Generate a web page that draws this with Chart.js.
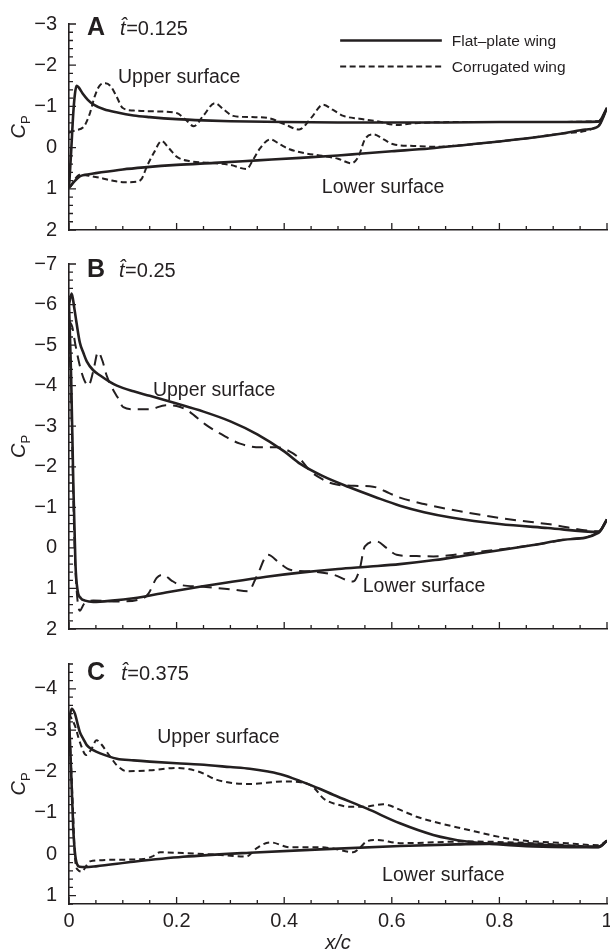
<!DOCTYPE html>
<html>
<head>
<meta charset="utf-8">
<title>Pressure coefficient, flat-plate vs corrugated wing</title>
<script src="https://cdn.jsdelivr.net/npm/chart.js@4.4.1/dist/chart.umd.min.js"></script>
<style>
  html, body { margin: 0; padding: 0; background: #fff; overflow: hidden; }
  body { width: 610px; height: 951px; position: relative; }
  canvas { position: absolute; left: 0; }
</style>
</head>
<body>
<canvas id="panelA" width="640" height="260" style="top:0"></canvas>
<canvas id="panelB" width="640" height="420" style="top:240px"></canvas>
<canvas id="panelC" width="640" height="330" style="top:640px"></canvas>
<script>
// chordwise position x/c and pressure coefficient Cp, [x, Cp]
// A: t = 0.125
const aFlatUpper = [[0,0.98],[0.004,0.1],[0.008,-0.85],[0.011,-1.3],[0.014,-1.5],[0.018,-1.46],[0.025,-1.32],[0.035,-1.16],[0.045,-1.05],[0.065,-0.93],[0.09,-0.85],[0.12,-0.78],[0.15,-0.74],[0.2,-0.69],[0.25,-0.66],[0.3,-0.64],[0.4,-0.62],[0.5,-0.61],[0.6,-0.61],[0.7,-0.61],[0.8,-0.62],[0.9,-0.62],[0.984,-0.63],[1,-0.96]];
const aFlatLower = [[0,0.98],[0.01,0.82],[0.02,0.7],[0.03,0.66],[0.045,0.63],[0.06,0.6],[0.1,0.53],[0.14,0.48],[0.2,0.42],[0.27,0.37],[0.35,0.31],[0.43,0.25],[0.5,0.19],[0.54,0.15],[0.6,0.09],[0.67,0.02],[0.74,-0.07],[0.8,-0.15],[0.86,-0.24],[0.92,-0.35],[0.96,-0.44],[0.984,-0.52],[1,-0.96]];
const aCorrUpper = [[0,-0.36],[0.012,-0.42],[0.027,-0.5],[0.038,-0.8],[0.048,-1.25],[0.058,-1.52],[0.068,-1.56],[0.078,-1.48],[0.088,-1.25],[0.1,-0.96],[0.12,-0.9],[0.16,-0.88],[0.2,-0.84],[0.215,-0.7],[0.232,-0.52],[0.25,-0.78],[0.271,-1.08],[0.288,-0.92],[0.305,-0.77],[0.34,-0.74],[0.37,-0.72],[0.4,-0.57],[0.428,-0.44],[0.45,-0.72],[0.472,-1.04],[0.49,-0.92],[0.51,-0.77],[0.54,-0.7],[0.572,-0.64],[0.609,-0.55],[0.65,-0.6],[0.74,-0.62],[0.86,-0.62],[0.984,-0.64],[1,-0.96]];
const aCorrLower = [[0.003,0.95],[0.012,0.75],[0.02,0.66],[0.04,0.69],[0.06,0.74],[0.08,0.8],[0.1,0.84],[0.125,0.83],[0.135,0.76],[0.145,0.45],[0.158,0.12],[0.172,-0.16],[0.186,0.02],[0.2,0.22],[0.225,0.33],[0.26,0.37],[0.3,0.42],[0.33,0.52],[0.342,0.3],[0.355,0.02],[0.374,-0.2],[0.392,-0.08],[0.41,0.04],[0.44,0.14],[0.47,0.2],[0.5,0.27],[0.525,0.38],[0.538,0.22],[0.55,-0.2],[0.566,-0.32],[0.585,-0.2],[0.603,-0.08],[0.64,-0.04],[0.68,-0.02],[0.74,-0.07],[0.8,-0.15],[0.86,-0.24],[0.92,-0.35],[0.984,-0.53],[1,-0.96]];

// B: t = 0.25
const bFlatUpper = [[0,-6.0],[0.005,-6.27],[0.01,-5.9],[0.014,-5.55],[0.02,-5.07],[0.027,-4.8],[0.033,-4.6],[0.045,-4.38],[0.058,-4.25],[0.075,-4.1],[0.089,-4.0],[0.12,-3.86],[0.15,-3.75],[0.2,-3.56],[0.25,-3.36],[0.3,-3.12],[0.35,-2.8],[0.4,-2.38],[0.43,-2.07],[0.47,-1.78],[0.52,-1.5],[0.57,-1.25],[0.615,-1.04],[0.66,-0.88],[0.71,-0.75],[0.8,-0.59],[0.89,-0.49],[0.984,-0.39],[1,-0.7]];
const bFlatLower = [[0,-6.0],[0.004,-4.2],[0.008,-1.6],[0.012,0.4],[0.016,1.05],[0.022,1.24],[0.03,1.3],[0.045,1.33],[0.08,1.3],[0.12,1.24],[0.18,1.1],[0.243,0.96],[0.3,0.84],[0.367,0.71],[0.43,0.61],[0.5,0.52],[0.56,0.46],[0.615,0.4],[0.68,0.3],[0.74,0.18],[0.8,0.06],[0.863,-0.07],[0.92,-0.2],[0.984,-0.37],[1,-0.7]];
const bCorrUpper = [[0,-5.6],[0.006,-5.45],[0.012,-5.0],[0.02,-4.5],[0.028,-4.15],[0.036,-4.0],[0.045,-4.35],[0.054,-4.83],[0.062,-4.62],[0.07,-4.25],[0.08,-3.95],[0.09,-3.72],[0.101,-3.47],[0.12,-3.42],[0.15,-3.42],[0.18,-3.52],[0.2,-3.5],[0.219,-3.4],[0.256,-3.02],[0.29,-2.75],[0.318,-2.57],[0.355,-2.48],[0.386,-2.48],[0.41,-2.38],[0.429,-2.2],[0.448,-1.9],[0.47,-1.7],[0.491,-1.58],[0.53,-1.53],[0.559,-1.52],[0.574,-1.48],[0.595,-1.35],[0.615,-1.24],[0.66,-1.08],[0.708,-0.95],[0.8,-0.74],[0.894,-0.58],[0.984,-0.41],[1,-0.7]];
const bCorrLower = [[0,-5.6],[0.005,-3.2],[0.01,-0.2],[0.014,1.0],[0.02,1.55],[0.028,1.38],[0.045,1.3],[0.09,1.32],[0.138,1.24],[0.148,1.12],[0.163,0.74],[0.175,0.66],[0.19,0.8],[0.206,0.91],[0.243,0.95],[0.305,1.03],[0.333,1.07],[0.349,0.7],[0.37,0.17],[0.39,0.36],[0.411,0.54],[0.45,0.58],[0.491,0.66],[0.528,0.83],[0.54,0.54],[0.55,-0.04],[0.572,-0.16],[0.59,0.0],[0.609,0.17],[0.64,0.2],[0.677,0.21],[0.739,0.13],[0.8,0.04],[0.863,-0.07],[0.92,-0.2],[0.984,-0.39],[1,-0.7]];

// C: t = 0.375
const cFlatUpper = [[0,-3.25],[0.005,-3.52],[0.011,-3.4],[0.016,-3.15],[0.02,-2.96],[0.027,-2.78],[0.033,-2.64],[0.045,-2.52],[0.058,-2.44],[0.089,-2.31],[0.12,-2.27],[0.15,-2.24],[0.2,-2.2],[0.243,-2.17],[0.3,-2.11],[0.336,-2.07],[0.37,-2.0],[0.398,-1.92],[0.43,-1.77],[0.467,-1.58],[0.491,-1.44],[0.553,-1.11],[0.615,-0.75],[0.677,-0.47],[0.739,-0.31],[0.801,-0.24],[0.863,-0.19],[0.93,-0.17],[0.984,-0.17],[1,-0.33]];
const cFlatLower = [[0,-3.3],[0.004,-2.0],[0.008,-0.6],[0.011,-0.05],[0.015,0.24],[0.02,0.3],[0.03,0.31],[0.05,0.29],[0.12,0.18],[0.212,0.06],[0.336,-0.04],[0.467,-0.12],[0.615,-0.2],[0.72,-0.24],[0.801,-0.26],[0.9,-0.22],[0.984,-0.18],[1,-0.33]];
const cCorrUpper = [[0,-3.4],[0.011,-3.11],[0.02,-2.72],[0.032,-2.4],[0.042,-2.55],[0.051,-2.76],[0.06,-2.66],[0.07,-2.48],[0.08,-2.3],[0.089,-2.15],[0.107,-2.01],[0.15,-2.03],[0.2,-2.09],[0.243,-1.99],[0.275,-1.8],[0.336,-1.7],[0.398,-1.76],[0.44,-1.72],[0.456,-1.6],[0.473,-1.35],[0.5,-1.2],[0.522,-1.15],[0.547,-1.15],[0.584,-1.21],[0.62,-1.05],[0.646,-0.91],[0.739,-0.6],[0.832,-0.35],[0.925,-0.27],[0.984,-0.22],[1,-0.33]];
const cCorrLower = [[0,-3.3],[0.006,-1.5],[0.012,0.2],[0.017,0.38],[0.024,0.42],[0.032,0.28],[0.039,0.17],[0.089,0.13],[0.138,0.11],[0.155,0.05],[0.169,-0.05],[0.212,-0.03],[0.275,0.01],[0.33,0.05],[0.349,-0.15],[0.374,-0.29],[0.411,-0.17],[0.467,-0.17],[0.491,-0.14],[0.528,-0.05],[0.54,-0.15],[0.553,-0.31],[0.572,-0.35],[0.615,-0.27],[0.739,-0.31],[0.863,-0.27],[0.984,-0.19],[1,-0.33]];

// axis ranges (Cp axis is reversed: negative up)
const cpRangeA = [-3, 2];
const cpRangeB = [-7, 2];
const cpRangeC = [-4.6, 1.2];
const seriesNames = ['Flat\u2013plate wing', 'Corrugated wing'];

const ink = '#231f20';
const FONT = '"Liberation Sans", Arial, Helvetica, sans-serif';

function pts(arr) {
  return arr.map(p => ({ x: p[0], y: p[1] }));
}

function curve(label, arr, dash) {
  return {
    label: label,
    data: pts(arr),
    showLine: true,
    borderColor: ink,
    borderWidth: dash ? 2 : 2.6,
    borderDash: dash || [],
    borderCapStyle: 'butt',
    borderJoinStyle: 'round',
    pointRadius: 0,
    fill: false,
    cubicInterpolationMode: 'monotone'
  };
}

function cpLabel(v) {
  const r = Math.round(v);
  return r < 0 ? '\u2212' + Math.abs(r) : String(r);
}

// inward ticks, Cp axis title, panel tag, surface notes and legend
const panelDecor = {
  id: 'panelDecor',
  afterDraw(chart, args, opts) {
    const { ctx, chartArea: ca, scales: { x, y } } = chart;
    ctx.save();
    ctx.strokeStyle = ink;
    ctx.fillStyle = ink;
    ctx.lineWidth = 1.3;

    ctx.beginPath();
    for (let i = 0; i <= 20; i++) {
      const px = x.getPixelForValue(i * 0.05);
      const len = i % 4 === 0 ? 7 : 4;
      ctx.moveTo(px, ca.bottom);
      ctx.lineTo(px, ca.bottom - len);
    }
    const n = Math.round((y.max - y.min) / 0.2);
    for (let i = 0; i <= n; i++) {
      const v = y.min + i * 0.2;
      const py = y.getPixelForValue(v);
      const major = Math.abs(v - Math.round(v)) < 1e-6;
      ctx.moveTo(ca.left, py);
      ctx.lineTo(ca.left + (major ? 7 : 4), py);
    }
    ctx.stroke();

    // C_P, rotated
    ctx.save();
    ctx.translate(25, (ca.top + ca.bottom) / 2);
    ctx.rotate(-Math.PI / 2);
    ctx.textBaseline = 'alphabetic';
    ctx.font = 'italic 20px ' + FONT;
    const wC = ctx.measureText('C').width;
    ctx.font = '13px ' + FONT;
    const wP = ctx.measureText('P').width;
    const x0 = -(wC + wP) / 2;
    ctx.font = 'italic 20px ' + FONT;
    ctx.fillText('C', x0, 0);
    ctx.font = '13px ' + FONT;
    ctx.fillText('P', x0 + wC, 5);
    ctx.restore();

    ctx.textAlign = 'left';
    ctx.textBaseline = 'alphabetic';

    // panel letter and time
    const ty = y.getPixelForValue(opts.tagCp);
    ctx.font = 'bold 25px ' + FONT;
    ctx.fillText(opts.letter, x.getPixelForValue(0.0335), ty);
    const tx = x.getPixelForValue(opts.timeX);
    ctx.font = 'italic 20px ' + FONT;
    ctx.fillText('t\u0302', tx, ty);
    const tw = ctx.measureText('t').width;
    ctx.font = '20px ' + FONT;
    ctx.fillText('=' + opts.time, tx + tw + 0.5, ty);

    // surface notes
    ctx.font = '19.5px ' + FONT;
    opts.notes.forEach(nt => {
      ctx.fillText(nt.text, x.getPixelForValue(nt.x), y.getPixelForValue(nt.cp));
    });

    if (opts.legend) {
      const xa = x.getPixelForValue(0.504);
      const xb = x.getPixelForValue(0.693);
      const rows = [chart.data.datasets[0], chart.data.datasets[2]];
      const rowCp = [-2.62, -1.97];
      ctx.font = '15.5px ' + FONT;
      rows.forEach((ds, i) => {
        const ly = Math.round(y.getPixelForValue(rowCp[i])) + 0.5;
        ctx.save();
        ctx.lineWidth = ds.borderWidth;
        ctx.setLineDash(ds.borderDash);
        ctx.beginPath();
        ctx.moveTo(xa, ly);
        ctx.lineTo(xb, ly);
        ctx.stroke();
        ctx.restore();
        ctx.fillText(ds.label, xb + 10, ly + 5.5);
      });
    }
    ctx.restore();
  }
};

function makePanel(id, cfg) {
  const dash = cfg.dash;
  new Chart(document.getElementById(id), {
    type: 'scatter',
    data: {
      datasets: [
        curve(seriesNames[0], cfg.flatUpper),
        curve(seriesNames[0], cfg.flatLower),
        curve(seriesNames[1], cfg.corrUpper, dash),
        curve(seriesNames[1], cfg.corrLower, dash)
      ]
    },
    options: {
      responsive: false,
      animation: false,
      devicePixelRatio: 1,
      layout: { padding: { top: cfg.padTop, right: 33, bottom: cfg.padBottom, left: 0 } },
      plugins: {
        legend: { display: false },
        tooltip: { enabled: false },
        panelDecor: cfg.decor
      },
      scales: {
        x: {
          type: 'linear',
          min: 0,
          max: 1,
          grid: { display: false, drawTicks: false },
          border: { display: true, color: ink, width: 1.6 },
          ticks: {
            display: cfg.showX,
            stepSize: 0.2,
            padding: 5,
            maxRotation: 0,
            autoSkip: false,
            color: ink,
            font: { family: FONT, size: 20 },
            callback: v => String(Math.round(v * 10) / 10)
          },
          title: {
            display: cfg.showX,
            text: 'x/c',
            color: ink,
            font: { family: FONT, size: 20, style: 'italic' },
            padding: { top: 0, bottom: 15 }
          },
          afterFit: s => { s.height = cfg.xHeight; }
        },
        y: {
          type: 'linear',
          min: cfg.range[0],
          max: cfg.range[1],
          reverse: true,
          grid: { display: false, drawTicks: false },
          border: { display: true, color: ink, width: 1.6 },
          ticks: {
            stepSize: 1,
            includeBounds: false,
            padding: 12,
            color: ink,
            font: { family: FONT, size: 20 },
            callback: v => cpLabel(v)
          },
          afterBuildTicks: s => {
            s.ticks = s.ticks.filter(t => Math.abs(t.value - Math.round(t.value)) < 1e-6);
          },
          afterFit: s => { s.width = 69; }
        }
      }
    },
    plugins: [panelDecor]
  });
}

makePanel('panelA', {
  flatUpper: aFlatUpper, flatLower: aFlatLower, corrUpper: aCorrUpper, corrLower: aCorrLower,
  range: cpRangeA, dash: [6, 3.5], padTop: 22, padBottom: 20, xHeight: 10, showX: false,
  decor: {
    letter: 'A', time: '0.125', tagCp: -2.74, timeX: 0.095, legend: true,
    notes: [{ text: 'Upper surface', x: 0.091, cp: -1.56 }, { text: 'Lower surface', x: 0.47, cp: 1.1 }]
  }
});

makePanel('panelB', {
  flatUpper: bFlatUpper, flatLower: bFlatLower, corrUpper: bCorrUpper, corrLower: bCorrLower,
  range: cpRangeB, dash: [11, 7], padTop: 24, padBottom: 21, xHeight: 10, showX: false,
  decor: {
    letter: 'B', time: '0.25', tagCp: -6.69, timeX: 0.093, legend: false,
    notes: [{ text: 'Upper surface', x: 0.156, cp: -3.75 }, { text: 'Lower surface', x: 0.546, cp: 1.08 }]
  }
});

makePanel('panelC', {
  flatUpper: cFlatUpper, flatLower: cFlatLower, corrUpper: cCorrUpper, corrLower: cCorrLower,
  range: cpRangeC, dash: [6, 4], padTop: 21, padBottom: 0, xHeight: 66, showX: true,
  decor: {
    letter: 'C', time: '0.375', tagCp: -4.22, timeX: 0.097, legend: false,
    notes: [{ text: 'Upper surface', x: 0.164, cp: -2.68 }, { text: 'Lower surface', x: 0.582, cp: 0.65 }]
  }
});
</script>
</body>
</html>
